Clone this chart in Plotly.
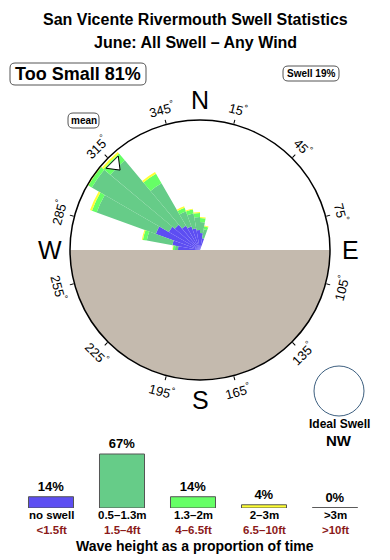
import math
import plotly.graph_objects as go

W, H = 390, 560

# ---------------- data ----------------
title_line1 = "San Vicente Rivermouth Swell Statistics"
title_line2 = "June: All Swell – Any Wind"
too_small_pct = 81
swell_pct = 19
ideal_swell = "NW"
mean_direction = 315

directions = [275, 285, 295, 305, 315, 325, 335, 345, 355, 5, 15]
no_swell = [2.2, 2.8, 4.7, 3.6, 3.3, 2.8, 2.5, 2.2, 2.0, 1.7, 1.2]
h_05_13 = [0.3, 2.6, 6.3, 8.9, 8.4, 4.9, 1.6, 1.5, 1.3, 1.1, 0.9]
h_13_2 = [0.2, 0.4, 0.5, 0.4, 0.9, 1.1, 0.4, 0.4, 0.4, 0.4, 0.3]
h_2_3 = [0.05, 0.1, 0.2, 0.1, 0.2, 0.2, 0.15, 0.1, 0.1, 0.1, 0.1]
h_gt3 = [0, 0, 0, 0, 0, 0, 0, 0, 0, 0, 0]
radial_max = 13.0

dir_ticks = [15, 45, 75, 105, 135, 165, 195, 225, 255, 285, 315, 345]
cardinals = ["N", "E", "S", "W"]
cardinal_angles = [0, 90, 180, 270]

legend_labels = ["no swell", "0.5–1.3m", "1.3–2m", "2–3m", ">3m"]
legend_ft = ["&lt;1.5ft", "1.5–4ft", "4–6.5ft", "6.5–10ft", "&gt;10ft"]
legend_pct = [14, 67, 14, 4, 0]

# ---------------- styles ----------------
FONT = "Liberation Sans, Arial, Helvetica, sans-serif"
C_NOSWELL = "#5d4ef2"
C_SMALL = "#66cc88"
C_MID = "#66ff66"
C_BIG = "#ffff33"
C_HUGE = "#b8a494"
C_LAND = "#c4baae"
C_RED = "#8b1a1a"
class_colors = [C_NOSWELL, C_SMALL, C_MID, C_BIG, C_HUGE]


def X(px):
    return px / W


def Y(py):
    return 1 - py / H


CX, CY, R = 200, 250, 130

fig = go.Figure()

# land (southern half)
fig.add_trace(go.Barpolar(r=[radial_max], theta=[180], width=[180],
                          marker=dict(color=C_LAND, line=dict(width=0)),
                          hoverinfo="skip", showlegend=False))

for vals, col in zip([no_swell, h_05_13, h_13_2, h_2_3, h_gt3], class_colors):
    fig.add_trace(go.Barpolar(r=vals, theta=directions, width=[10] * len(directions),
                              marker=dict(color=col, line=dict(width=0)),
                              showlegend=False))

# mean direction arrow
fig.add_trace(go.Scatterpolar(r=[12.05], theta=[mean_direction], mode="markers",
                              marker=dict(symbol="triangle-up", size=15,
                                          angle=(mean_direction + 180) % 360,
                                          color="white", line=dict(color="black", width=1)),
                              showlegend=False))

# bottom legend bars
disp = [max(p, 0.5) for p in legend_pct]
fig.add_trace(go.Bar(x=list(range(len(legend_pct))), y=disp,
                     text=[f"{p}%" for p in legend_pct], textposition="outside",
                     texttemplate="%{text}", cliponaxis=False,
                     textfont=dict(family=FONT, size=13, color="black", weight="bold"),
                     marker=dict(color=class_colors, line=dict(color="#555555", width=1)),
                     width=0.634, xaxis="x2", yaxis="y2", showlegend=False))

annotations = []


def ann(x, y, text, size, color="black", bold=True, xref="paper", angle=0):
    d = dict(x=x, y=y, xref=xref, yref="paper", text=text, showarrow=False,
             xanchor="center", yanchor="middle", textangle=angle,
             font=dict(family=FONT, size=size, color=color, weight="bold" if bold else "normal"))
    annotations.append(d)


ann(X(195), Y(20), title_line1, 16)
ann(X(195), Y(43), title_line2, 16)

# boxed labels
shapes = []


def rrect(x0, y0, x1, y1, r):
    return (f"M {X(x0 + r)},{Y(y0)} L {X(x1 - r)},{Y(y0)} Q {X(x1)},{Y(y0)} {X(x1)},{Y(y0 + r)} "
            f"L {X(x1)},{Y(y1 - r)} Q {X(x1)},{Y(y1)} {X(x1 - r)},{Y(y1)} "
            f"L {X(x0 + r)},{Y(y1)} Q {X(x0)},{Y(y1)} {X(x0)},{Y(y1 - r)} "
            f"L {X(x0)},{Y(y0 + r)} Q {X(x0)},{Y(y0)} {X(x0 + r)},{Y(y0)} Z")


boxes = [
    (10, 63, 146, 85, 5, f"Too Small {too_small_pct}%", 18),
    (283, 66, 339, 81, 5, f"Swell {swell_pct}%", 10),
    (68, 113, 99, 128, 5, "mean", 10),
]
for x0, y0, x1, y1, r, txt, fs in boxes:
    shapes.append(dict(type="path", xref="paper", yref="paper", path=rrect(x0, y0, x1, y1, r),
                       line=dict(color="#555555", width=1), fillcolor="white", layer="below"))
    ann(X((x0 + x1) / 2), Y((y0 + y1) / 2), txt, fs)

# compass tick labels
for a in dir_ticks:
    rad = math.radians(a)
    px = CX + 146 * math.sin(rad)
    py = CY - 146 * math.cos(rad)
    ang = a if (a < 90 or a > 270) else a - 180
    if ang > 180:
        ang -= 360
    ann(X(px), Y(py), f"{a}<sup>°</sup>", 13, bold=False, angle=ang)
for lab, a in zip(cardinals, cardinal_angles):
    rad = math.radians(a)
    px = CX + 150 * math.sin(rad)
    py = CY - 150 * math.cos(rad)
    ann(X(px), Y(py), lab, 25, bold=False)

# ideal swell
shapes.append(dict(type="circle", xref="paper", yref="paper",
                   x0=X(314), x1=X(364), y0=Y(416), y1=Y(366),
                   line=dict(color="#3d5f7f", width=1)))
ann(X(339), Y(424), "Ideal Swell", 12)
ann(X(339), Y(440), ideal_swell, 15)

# legend category labels (two lines: metres / feet)
for i, (l1, l2) in enumerate(zip(legend_labels, legend_ft)):
    ann(i, Y(522), f"{l1}<br><span style='color:{C_RED}'>{l2}</span>", 11.5, xref="x2")
ann(X(195), Y(546), "Wave height as a proportion of time", 14)

fig.update_layout(
    width=W, height=H, margin=dict(l=0, r=0, t=0, b=0),
    paper_bgcolor="white", plot_bgcolor="white",
    font=dict(family=FONT, color="black"),
    showlegend=False,
    polar=dict(
        domain=dict(x=[X(CX - R), X(CX + R)], y=[Y(CY + R), Y(CY - R)]),
        bgcolor="white", barmode="stack",
        angularaxis=dict(rotation=90, direction="clockwise", showline=True, linecolor="black",
                         linewidth=1.5, showgrid=False, ticks="outside", ticklen=4,
                         tickcolor="black", tickvals=dir_ticks, showticklabels=False),
        radialaxis=dict(visible=False, range=[0, radial_max]),
    ),
    xaxis2=dict(domain=[X(15.5), X(370.5)], anchor="y2", range=[-0.5, 4.5],
                showgrid=False, zeroline=False, showline=False, showticklabels=False, ticks=""),
    yaxis2=dict(domain=[Y(508), Y(430)], anchor="x2", range=[0, 96.8], visible=False),
    annotations=annotations, shapes=shapes,
)

fig.write_html("out.html")
